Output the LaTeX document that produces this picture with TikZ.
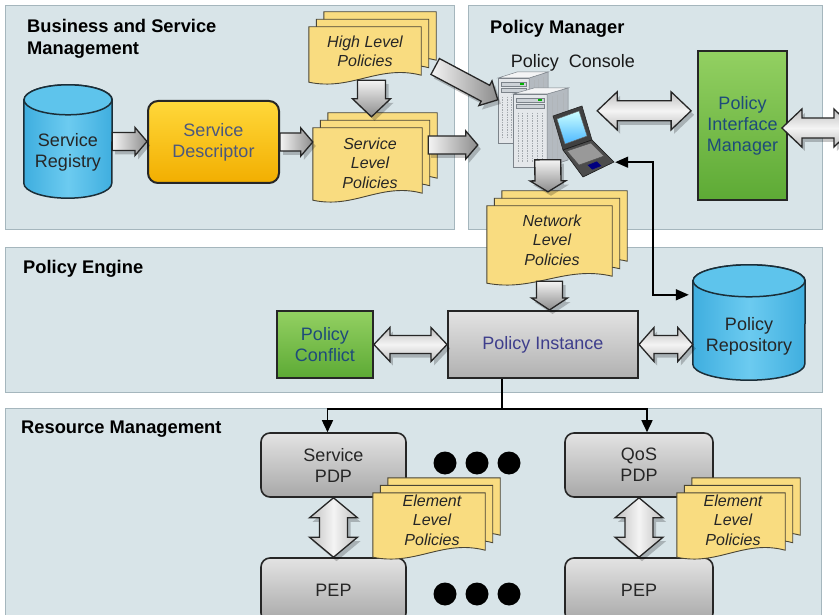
\documentclass[tikz,border=0pt]{standalone}
\usepackage{fontspec}
\setmainfont{Liberation Sans}
\usetikzlibrary{calc,arrows.meta}

\definecolor{panelfill}{HTML}{D8E4E8}
\definecolor{paneldraw}{HTML}{A5B6BD}
\definecolor{docfill}{HTML}{F9DC80}
\definecolor{docdraw}{HTML}{4A4535}
\definecolor{cylA}{HTML}{3FAEDF}
\definecolor{cylB}{HTML}{6CCBF0}
\definecolor{cyllidc}{HTML}{5EC4EC}
\definecolor{cylline}{HTML}{1B2E38}
\definecolor{greentop}{HTML}{93D062}
\definecolor{greenbot}{HTML}{5DAA35}
\definecolor{greentext}{HTML}{1E4B7A}
\definecolor{goldtop}{HTML}{FFD83A}
\definecolor{goldbot}{HTML}{F2AE00}
\definecolor{desctext}{HTML}{4B587E}
\definecolor{graytop}{HTML}{E3E3E3}
\definecolor{graybot}{HTML}{A8A8A8}
\definecolor{pitext}{HTML}{3E3E8C}
\definecolor{arrowlight}{HTML}{F4F4F4}
\definecolor{arrowdark}{HTML}{8C8C8C}
\definecolor{srvfront}{HTML}{E4E7EA}
\definecolor{srvside}{HTML}{B4BAC0}
\definecolor{srvtop}{HTML}{F3F4F5}
\definecolor{srvedge}{HTML}{7C838A}
\definecolor{srvbay}{HTML}{CDD2D7}

% one page of a document stack, shifted up and right by #2
\newcommand\docpage[2]{%
  \path[docpage] ($(#1.north west)+(#2,-#2)$) -- ($(#1.north east)+(#2,-#2)$)
    -- ($(#1.south east)+(#2,-#2-7)$)
    .. controls ($(#1.south west)!0.62!(#1.south east)+(#2,-#2-18)$)
    and ($(#1.south west)!0.38!(#1.south east)+(#2,-#2+9)$)
    .. ($(#1.south west)+(#2,-#2)$) -- cycle;}
\newcommand\docstack[1]{\docpage{#1}{15}\docpage{#1}{7.5}\docpage{#1}{0}}

% database drum filling the area of node #1
\newcommand\drum[3]{%
  \path[cylside] ($(#1.north west)+(0,#3)$) -- ($(#1.south west)+(0,-#3)$)
    arc[start angle=180,end angle=360,x radius=#2pt,y radius=#3pt]
    -- ($(#1.north east)+(0,#3)$)
    arc[start angle=0,end angle=180,x radius=#2pt,y radius=#3pt] -- cycle;
  \path[cyllid] ($(#1.north)+(0,#3)$) ellipse[x radius=#2pt,y radius=#3pt];}

% outlines of the wide arrows (ba-a tail, ba-b tip, ba-c / ba-d head bases)
\newcommand\arrowshape[2]{%
  ($(ba-a)!#1pt!90:(ba-b)$) -- ($(ba-c)!#1pt!90:(ba-b)$) -- ($(ba-c)!#2pt!90:(ba-b)$)
  -- (ba-b) -- ($(ba-c)!#2pt!-90:(ba-b)$) -- ($(ba-c)!#1pt!-90:(ba-b)$)
  -- ($(ba-a)!#1pt!-90:(ba-b)$) -- cycle}
\newcommand\dblshape[2]{%
  (ba-a) -- ($(ba-c)!#2pt!90:(ba-b)$) -- ($(ba-c)!#1pt!90:(ba-b)$)
  -- ($(ba-d)!#1pt!90:(ba-b)$) -- ($(ba-d)!#2pt!90:(ba-b)$) -- (ba-b)
  -- ($(ba-d)!#2pt!-90:(ba-b)$) -- ($(ba-d)!#1pt!-90:(ba-b)$)
  -- ($(ba-c)!#1pt!-90:(ba-b)$) -- ($(ba-c)!#2pt!-90:(ba-b)$) -- cycle}
% [shading]{from}{to}{shaft half width}{head half width}{head length}
\newcommand\blockarrow[6][]{%
  \coordinate (ba-a) at #2; \coordinate (ba-b) at #3;
  \coordinate (ba-c) at ($(ba-b)!#6pt!(ba-a)$);
  \path[arrowshadow] \arrowshape{#4}{#5};
  \path[widearrow,#1] \arrowshape{#4}{#5};}
\newcommand\dblarrow[6][]{%
  \coordinate (ba-a) at #2; \coordinate (ba-b) at #3;
  \coordinate (ba-c) at ($(ba-a)!#6pt!(ba-b)$);
  \coordinate (ba-d) at ($(ba-b)!#6pt!(ba-a)$);
  \path[arrowshadow] \dblshape{#4}{#5};
  \path[widearrow,#1] \dblshape{#4}{#5};}

% server tower drawn from the local origin
\newcommand\servertower[2]{%
  \path[fill=srvfront, draw=srvedge, line width=.5pt] (0,6) rectangle (0.62*#1,#2);
  \path[fill=srvside, draw=srvedge, line width=.5pt] (0.62*#1,6) -- (#1,0) -- (#1,#2-7) -- (0.62*#1,#2) -- cycle;
  \path[fill=srvtop, draw=srvedge, line width=.5pt] (0,6) -- (0.38*#1,0) -- (#1,0) -- (0.62*#1,6) -- cycle;
  \foreach \yy in {10,16} \path[fill=srvbay, draw=srvedge, line width=.3pt] (3,\yy) rectangle (0.62*#1-3,\yy+4);
  \path[fill=green!70!black] (0.62*#1-9,11) rectangle (0.62*#1-5,13);
  \foreach \k in {1,...,6} \draw[srvedge!70, line width=.6pt, dash pattern=on 1.5pt off 1pt] ({\k*0.62*#1/7},25) -- ({\k*0.62*#1/7},#2-4);
  \foreach \k in {1,...,3} \draw[srvedge!60, line width=.5pt] ({0.62*#1+\k*0.38*#1/4},{6-\k*1.5+4}) -- ({0.62*#1+\k*0.38*#1/4},{#2-\k*1.8-4});}

\begin{document}
\begin{tikzpicture}[x=1pt,y=-1pt,
  panel/.style={fill=panelfill, draw=paneldraw, line width=1pt},
  title/.style={font=\fontsize{18.3}{22}\selectfont\bfseries, anchor=west, align=left, inner sep=0pt},
  lbl/.style={font=\fontsize{18}{21}\selectfont, align=center, inner sep=0pt, text=black!85},
  doclbl/.style={font=\fontsize{16}{19.5}\selectfont\itshape, align=center, inner sep=0pt, text=black!85},
  area/.style={rectangle, inner sep=0pt, draw=none},
  docpage/.style={fill=docfill, draw=docdraw, line width=.9pt},
  cylside/.style={left color=cylA, right color=cylA, middle color=cylB, draw=cylline, line width=1.5pt},
  cyllid/.style={fill=cyllidc, draw=cylline, line width=1.5pt},
  greenbox/.style={rectangle, draw=black!85, line width=1.8pt, top color=greentop, bottom color=greenbot,
    text=greentext, font=\fontsize{18}{21}\selectfont, align=center, inner sep=0pt},
  graybox/.style={rectangle, rounded corners=9pt, draw=black!85, line width=1.6pt, top color=graytop,
    bottom color=graybot, text=black!85, font=\fontsize{18}{21}\selectfont, align=center, inner sep=0pt},
  goldbox/.style={rectangle, rounded corners=10pt, draw=black!85, line width=2pt, top color=goldtop,
    bottom color=goldbot, text=desctext, font=\fontsize{18}{21}\selectfont, align=center, inner sep=0pt},
  instbox/.style={rectangle, draw=black!85, line width=2pt, top color=graytop, bottom color=graybot!90,
    text=pitext, font=\fontsize{18}{21}\selectfont, align=center, inner sep=0pt},
  widearrow/.style={draw=black!85, line width=1.3pt, line join=miter},
  arrowshadow/.style={fill=black, opacity=.22, transform canvas={shift={(3pt,-4pt)}}},
  toright/.style={left color=arrowlight, right color=arrowdark},
  todown/.style={top color=arrowlight, bottom color=arrowdark},
  twoway/.style={top color=gray!50, bottom color=gray!50, middle color=arrowlight},
  twowayv/.style={left color=gray!50, right color=gray!50, middle color=arrowlight},
  link/.style={draw=black, line width=1.6pt},
  linktip/.style={-{Triangle[width=11pt,length=12pt]}},
  linktips/.style={{Triangle[width=11pt,length=13pt]}-{Triangle[width=11pt,length=13pt]}},
  dot/.style={circle, fill=black, inner sep=0pt, minimum size=23pt}]

\path[use as bounding box] (0,0) rectangle (839,615);
\clip (0,0) rectangle (839,615);

% layer panels
\path[panel] (5,6) rectangle (454,230);
\path[panel] (468,6) rectangle (822,230);
\path[panel] (5,248) rectangle (822,392);
\path[panel] (5,408) rectangle (821,630);

\node[title] (t-bsm) at (27,39) {Business and Service\\Management};
\node[title] (t-pm) at (490,29) {Policy Manager};
\node[title] (t-pe) at (23,269) {Policy Engine};
\node[title] (t-rm) at (21,429) {Resource Management};

% ---------- Business and Service Management ----------
\node[area, minimum width=88pt, minimum height=113pt] (reg) at (68,141.5) {};
\drum{reg}{44}{15}
\node[lbl] (reg-text) at (68,152.5) {Service\\Registry};

\node[goldbox, minimum width=131pt, minimum height=82pt] (desc) at (213.5,142) {Service\\Descriptor};

\node[area, minimum width=112pt, minimum height=55pt] (hlp) at (365,54.5) {};
\docstack{hlp}
\node[doclbl] (hlp-text) at (365,51.5) {High Level\\Policies};

\node[area, minimum width=109pt, minimum height=72pt] (slp) at (367.5,164) {};
\docstack{slp}
\node[doclbl] (slp-text) at (370,163) {Service\\Level\\Policies};

% ---------- Policy Manager ----------
\node[lbl, text=black!90] (console-text) at (573,63) {Policy\ \ Console};
\node[area, minimum width=120pt, minimum height=108pt] (console) at (555,124) {};
\begin{scope}[shift={(498,72)}]
  \servertower{50}{71}
\end{scope}
\begin{scope}[shift={(513,88)}]
  \servertower{55}{79}
\end{scope}
% laptop
\path[fill=black!75, draw=black!85, line width=.6pt] (553,116) -- (582,106) -- (592,140) -- (563,150) -- cycle;
\path[top color=cyan!20, bottom color=cyan!60!blue!70, draw=black!60, line width=.4pt] (557,119) -- (579,111) -- (587,136) -- (565,144) -- cycle;
\path[fill=black!70, draw=black!90, line width=.6pt] (563,150) -- (592,140) -- (614,162) -- (583,177) -- cycle;
\path[fill=black!40, draw=black!70, line width=.4pt] (567,151) -- (591,143) -- (604,156) -- (579,165) -- cycle;
\path[fill=blue!50!black, draw=black!70, line width=.4pt] (587,165) -- (597,161) -- (602,166) -- (592,170) -- cycle;

\node[greenbox, minimum width=89pt, minimum height=149pt] (pim) at (742.5,125.5) {Policy\\Interface\\Manager};

% ---------- Policy Engine ----------
\node[greenbox, minimum width=96pt, minimum height=67pt] (pc) at (325,344.5) {Policy\\Conflict};
\node[instbox, minimum width=190pt, minimum height=67pt] (pi) at (543,344.5) {Policy Instance};

\node[area, minimum width=112pt, minimum height=115pt] (repo) at (749,322.5) {};
\drum{repo}{56}{16}
\node[lbl] (repo-text) at (749,336) {Policy\\Repository};

% ---------- Resource Management ----------
\node[graybox, minimum width=145pt, minimum height=64pt] (spdp) at (333.5,465) {Service\\PDP};
\node[graybox, minimum width=148pt, minimum height=64pt] (qpdp) at (639,465) {QoS\\PDP};
\node[graybox, minimum width=145pt, minimum height=64pt] (spep) at (333.5,590) {PEP};
\node[graybox, minimum width=148pt, minimum height=64pt] (qpep) at (639,590) {PEP};

\node[dot] (d1) at (445,463) {};
\node[dot] (d2) at (477,463) {};
\node[dot] (d3) at (509,463) {};
\node[dot] (d4) at (445,594) {};
\node[dot] (d5) at (477,594) {};
\node[dot] (d6) at (509,594) {};

\dblarrow[twowayv]{(spdp.south)}{(spep.north)}{14}{24}{20}
\dblarrow[twowayv]{(qpdp.south)}{(qpep.north)}{14}{24}{20}

\node[area, minimum width=112pt, minimum height=64pt] (elp1) at (429,525) {};
\docstack{elp1}
\node[doclbl] (elp1-text) at (432,520) {Element\\Level\\Policies};
\node[area, minimum width=108pt, minimum height=64pt] (elp2) at (731,525) {};
\docstack{elp2}
\node[doclbl] (elp2-text) at (733,520) {Element\\Level\\Policies};

% Network level policies sit across the two upper layers
\node[area, minimum width=125pt, minimum height=77pt] (nlp) at (549.5,244.5) {};
\docstack{nlp}
\node[doclbl] (nlp-text) at (552,240) {Network\\Level\\Policies};

% ---------- wide arrows ----------
\blockarrow[toright]{(reg.east)}{(reg.east -| desc.west)}{9}{14}{12}
\blockarrow[toright]{(desc.east)}{(desc.east -| slp.west)}{9}{14}{12}
\coordinate (slp-out) at ($(slp.east)+(6,-19)$);
\blockarrow[toright]{(slp-out)}{($(slp-out -| console.west)+(-17,0)$)}{9}{14}{12}
\blockarrow[todown]{($(hlp.south)+(6.5,-2)$)}{($(slp.north)+(4,-11)$)}{14}{19}{18}
\blockarrow[toright]{($(hlp.east)+(14,12)$)}{($(console.north west)+(3,30)$)}{9}{14}{14}
\coordinate (console-out) at ($(console.north east)+(-18,41)$);
\dblarrow[twoway]{(console-out)}{($(console-out -| pim.west)+(-6,0)$)}{10}{19}{20}
\dblarrow[twoway]{($(pim.east)+(-6,2.5)$)}{($(pim.east)+(66,2.5)$)}{10}{19}{20}
\blockarrow[todown]{($(console.north west)+(53,90)$)}{($(nlp.north)+(-1.5,-14)$)}{13}{18}{11}
\blockarrow[todown]{($(nlp.south)+(0,-2)$)}{(nlp.south |- pi.north)}{13}{18}{12}
\dblarrow[twoway]{(pc.east)}{(pi.west)}{9}{17}{16}
\dblarrow[twoway]{(pi.east)}{(pi.east -| repo.west)}{9}{17}{15}

% ---------- thin links ----------
\coordinate (pi-out) at ($(pi.south west)!0.286!(pi.south east)$);
\draw[link] (pi-out) -- ++(0,30) coordinate (fork);
\draw[link, linktip] (fork) -| ($(spdp.north)+(-6,0)$);
\draw[link, linktip] (fork) -| ($(qpdp.north)+(8,0)$);
\coordinate (lap-in) at ($(console.south east)+(0,-16)$);
\coordinate (repo-in) at ($(repo.north west)+(-4,30)$);
\draw[link, linktips] (lap-in) -- ++(38,0) |- (repo-in);
\end{tikzpicture}
\end{document}
